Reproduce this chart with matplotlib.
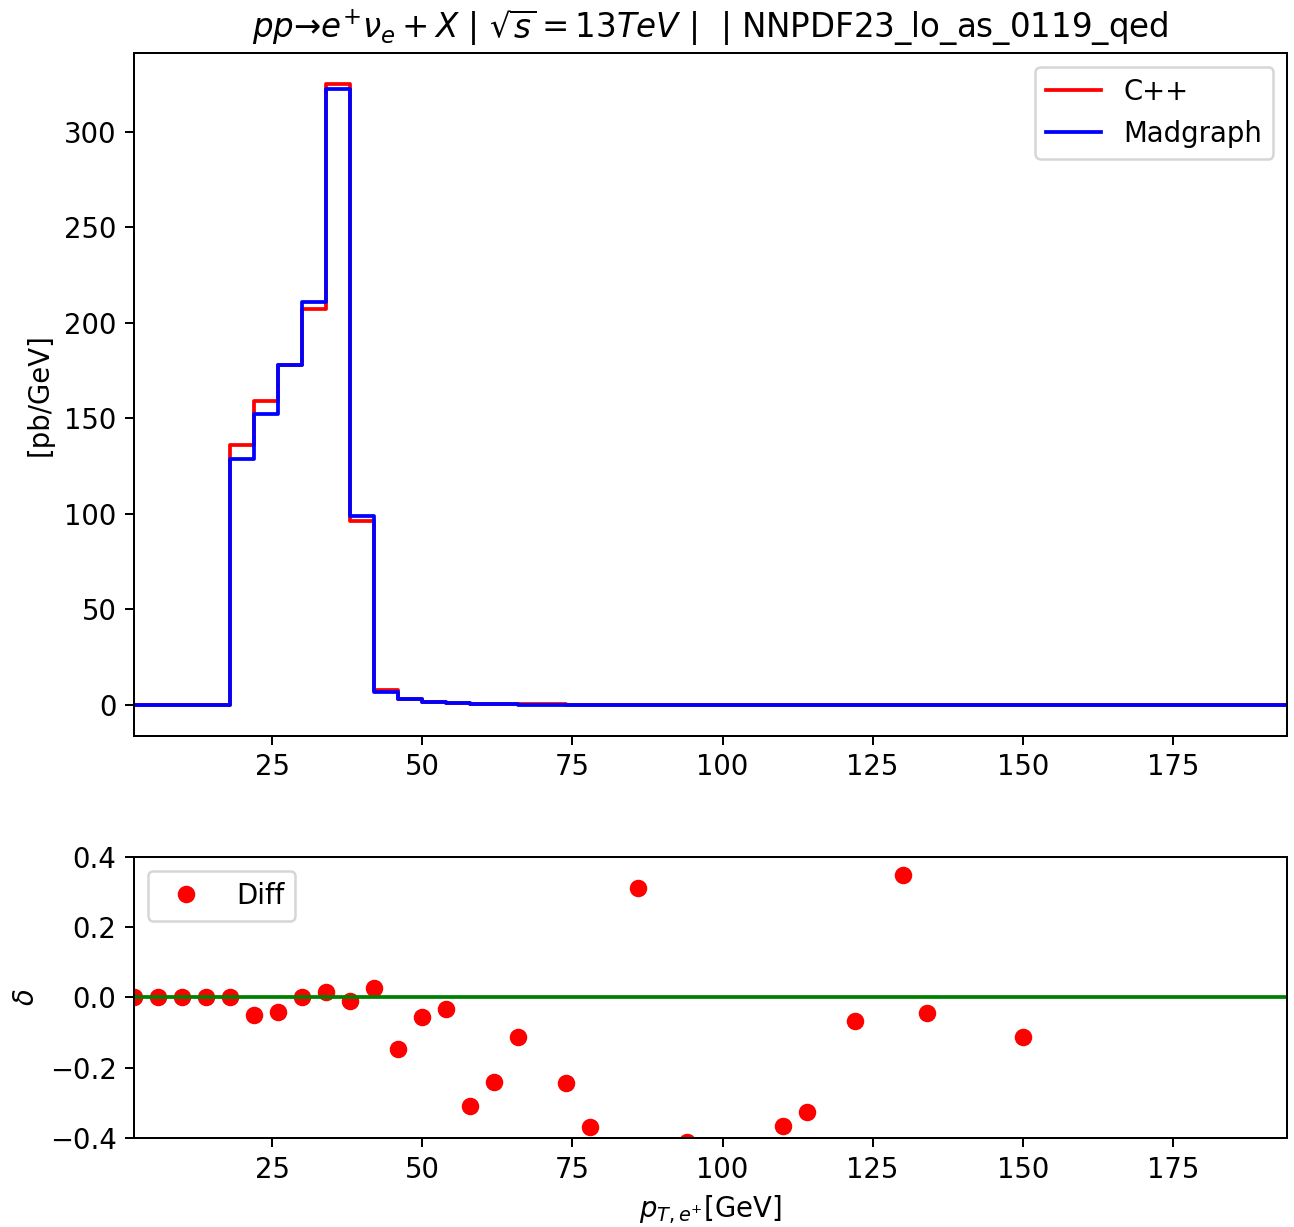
"""Compare the C++ and Madgraph positron pT spectra, with the relative difference below."""

import matplotlib
import numpy as np

matplotlib.use("Agg")

from matplotlib import pyplot as plt

# bin edges of the pT histogram (GeV)
edges = np.arange(2, 195, 4)

# dsigma/dpT per bin (pb/GeV)
cpp = [
    0.0, 0.0, 0.0, 0.0, 136.0, 159.0, 178.0, 207.5, 325.0, 96.5,
    8.0, 3.2, 1.6, 1.1, 0.62, 0.46, 0.34, 0.25, 0.20, 0.15,
    0.12, 0.10, 0.08, 0.07, 0.06, 0.05, 0.045, 0.04, 0.035, 0.03,
    0.027, 0.024, 0.021, 0.019, 0.017, 0.015, 0.013, 0.012, 0.011, 0.010,
    0.009, 0.008, 0.007, 0.006, 0.006, 0.005, 0.005, 0.004,
]
madgraph = [
    0.0, 0.0, 0.0, 0.0, 128.5, 152.5, 178.0, 211.0, 322.5, 98.8,
    6.8, 3.02, 1.55, 0.76, 0.47, 0.40, 0.18, 0.19, 0.126, 0.08,
    0.157, 0.05, 0.047, 0.03, 0.02, 0.02, 0.028, 0.027, 0.012, 0.021,
    0.036, 0.012, 0.015, 0.010, 0.008, 0.006, 0.005, 0.004, 0.005, 0.006,
    0.005, 0.004, 0.003, 0.003, 0.002, 0.002, 0.002, 0.002,
]

# relative difference, plotted at the bin positions below
diff_x = np.arange(2, 191, 4)
diff = [
    0.0, 0.0, 0.0, 0.0, 0.0, -0.051, -0.040, 0.0, 0.017, -0.010,
    0.026, -0.147, -0.056, -0.032, -0.308, -0.241, -0.113, np.nan, -0.244, -0.369,
    np.nan, 0.312, np.nan, -0.41, np.nan, np.nan, np.nan, -0.367, -0.325, np.nan,
    -0.068, np.nan, 0.35, -0.044, np.nan, np.nan, np.nan, -0.112, np.nan, np.nan,
    np.nan, np.nan, np.nan, np.nan, np.nan, np.nan, np.nan, np.nan,
]

TITLE = r"$pp$→$e^{+}\nu_{e}+X$ | $\sqrt{s}=13TeV$ |  | NNPDF23_lo_as_0119_qed"

plt.rcParams["font.size"] = 11

fig = plt.figure(figsize=(1294 / 180, 1227 / 180), dpi=180)
ax_top = fig.add_axes([0.1036, 0.4002, 0.891, 0.5566])
ax_bot = fig.add_axes([0.1036, 0.0725, 0.891, 0.2291])

ax_top.step(edges, list(cpp) + [cpp[-1]], where="post", color="red", label="C++")
ax_top.step(edges, list(madgraph) + [madgraph[-1]], where="post", color="blue", label="Madgraph")
ax_top.set_xlim(edges[0], edges[-1])
ax_top.set_ylabel("[pb/GeV]")
ax_top.set_title(TITLE, fontsize=13)
ax_top.legend(loc="upper right")

ax_bot.plot(diff_x, diff, "ro", label="Diff")
ax_bot.axhline(0.0, color="green")
ax_bot.set_xlim(edges[0], edges[-1])
ax_bot.set_ylim(-0.4, 0.4)
ax_bot.set_ylabel(r"$\delta$")
ax_bot.set_xlabel(r"$p_{T,e^{+}}$[GeV]")
ax_bot.legend(loc="upper left")

fig.savefig("out.png", dpi=180)
